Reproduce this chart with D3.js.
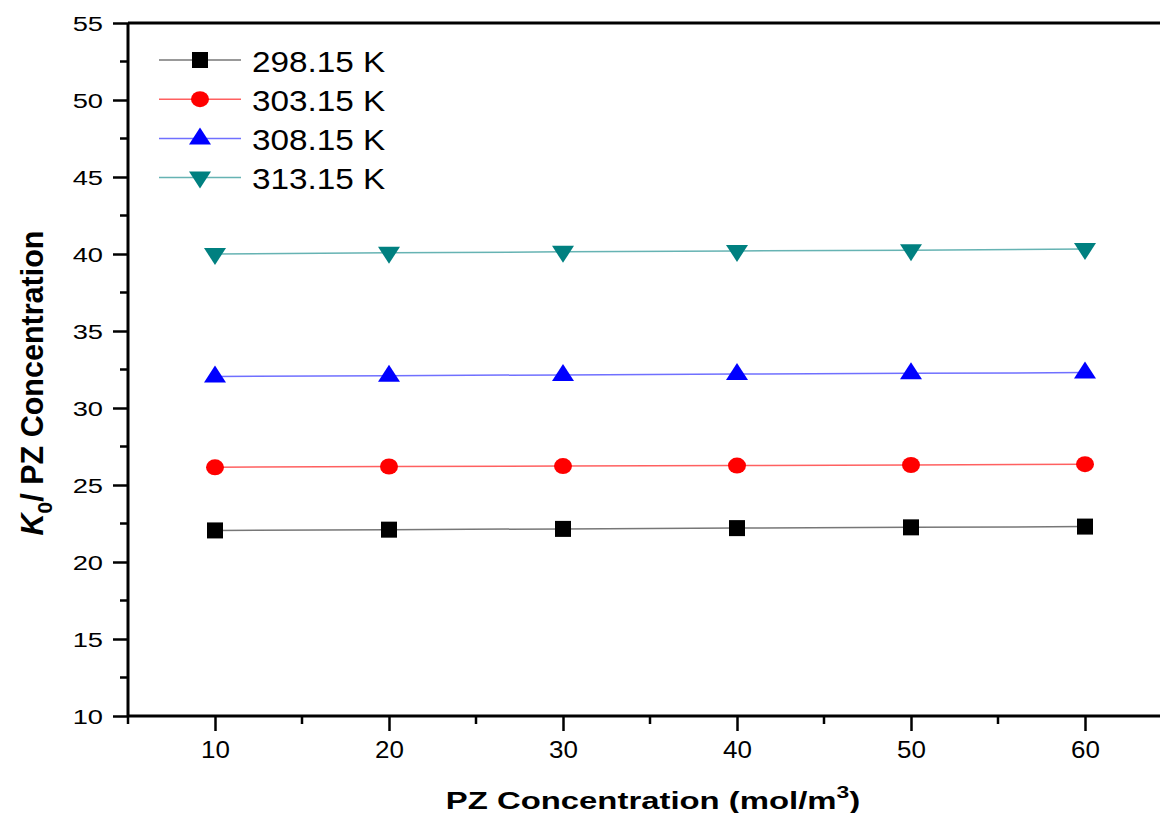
<!DOCTYPE html>
<html>
<head>
<meta charset="utf-8">
<script src="https://cdn.jsdelivr.net/npm/d3@7"></script>
<style>
  body { margin: 0; background: #fff; }
  text { font-family: Arial, "Liberation Sans", sans-serif; }
</style>
</head>
<body>
<script>
// concentration (mol/m3)
var conc = [10, 20, 30, 40, 50, 60];
var seriesNames = ["298.15 K", "303.15 K", "308.15 K", "313.15 K"];
var k298 = [22.05, 22.1, 22.15, 22.2, 22.25, 22.3];
var k303 = [26.15, 26.2, 26.23, 26.26, 26.3, 26.35];
var k308 = [32.05, 32.1, 32.15, 32.2, 32.25, 32.3];
var k313 = [40.0, 40.08, 40.14, 40.2, 40.25, 40.32];
var xTicks = [10, 20, 30, 40, 50, 60];
var yTicks = [10, 15, 20, 25, 30, 35, 40, 45, 50, 55];

var colors = ["#000000", "#ff0000", "#0000ff", "#008080"];
var lineColors = ["#777777", "#ff6060", "#7070ff", "#66b3b3"];
var shapes = ["square", "circle", "up", "down"];
var allSeries = [k298, k303, k308, k313];

var width = 1160, height = 813;
var svg = d3.select("body").append("svg")
  .attr("width", width)
  .attr("height", height);

var x = d3.scaleLinear().domain([5, 65]).range([128, 1172]);
var y = d3.scaleLinear().domain([10, 55]).range([716, 23]);

// frame top line
svg.append("line")
  .attr("x1", x(5)).attr("x2", width)
  .attr("y1", y(55)).attr("y2", y(55))
  .attr("stroke", "#000").attr("stroke-width", 3);

// minor ticks
var xMinor = d3.range(5, 66, 10);
var yMinor = d3.range(12.5, 55, 5);

var xAxis = svg.append("g").attr("transform", "translate(0," + y(10) + ")");
xAxis.call(d3.axisBottom(x).tickValues(xTicks).tickSize(15).tickFormat(d3.format("d")));
xAxis.selectAll("line.minor").data(xMinor).enter().append("line")
  .attr("class", "minor")
  .attr("x1", function(d) { return x(d); }).attr("x2", function(d) { return x(d); })
  .attr("y1", 0).attr("y2", 8);

var yAxis = svg.append("g").attr("transform", "translate(" + x(5) + ",0)");
yAxis.call(d3.axisLeft(y).tickValues(yTicks).tickSize(15).tickFormat(d3.format("d")));
yAxis.selectAll("line.minor").data(yMinor).enter().append("line")
  .attr("class", "minor")
  .attr("y1", function(d) { return y(d); }).attr("y2", function(d) { return y(d); })
  .attr("x1", 0).attr("x2", -8);

svg.selectAll(".domain").attr("stroke", "#000").attr("stroke-width", 3);
svg.selectAll(".tick line, line.minor").attr("stroke", "#000").attr("stroke-width", 2.5);
xAxis.selectAll(".domain").attr("d", "M" + x(5) + ",0H" + width);
yAxis.selectAll(".domain").attr("d", "M0," + y(10) + "V" + y(55));
xAxis.attr("font-size", null);
yAxis.attr("font-size", null);

// tick labels are drawn a bit wider than tall, like the original
xAxis.selectAll(".tick text")
  .style("font-size", "23px").style("fill", "#000")
  .attr("x", 0).attr("y", 0).attr("dy", 0)
  .attr("transform", "translate(0,42) scale(1.13,1)");
yAxis.selectAll(".tick text")
  .style("font-size", "21px").style("fill", "#000")
  .attr("x", 0).attr("dy", "0.35em")
  .attr("transform", "translate(-25,0) scale(1.3,1)");

function drawMarker(g, shape, color, cx, cy) {
  if (shape == "square") {
    g.append("rect").attr("x", cx - 8).attr("y", cy - 8).attr("width", 16).attr("height", 16).attr("fill", color);
  } else if (shape == "circle") {
    g.append("ellipse").attr("cx", cx).attr("cy", cy).attr("rx", 9).attr("ry", 8).attr("fill", color);
  } else if (shape == "up") {
    g.append("path").attr("d", "M" + cx + "," + (cy - 11) + "L" + (cx + 11) + "," + (cy + 6) + "L" + (cx - 11) + "," + (cy + 6) + "Z").attr("fill", color);
  } else {
    g.append("path").attr("d", "M" + cx + "," + (cy + 11) + "L" + (cx + 11) + "," + (cy - 6) + "L" + (cx - 11) + "," + (cy - 6) + "Z").attr("fill", color);
  }
}

var line = d3.line()
  .x(function(d, i) { return x(conc[i]); })
  .y(function(d) { return y(d); });

allSeries.forEach(function(vals, s) {
  var g = svg.append("g");
  g.append("path").datum(vals)
    .attr("d", line)
    .attr("fill", "none")
    .attr("stroke", lineColors[s])
    .attr("stroke-width", 1.5);
  vals.forEach(function(v, i) {
    drawMarker(g, shapes[s], colors[s], x(conc[i]), y(v));
  });
});

// legend
var legend = svg.append("g");
seriesNames.forEach(function(name, s) {
  var ly = 60 + s * 39.2;
  legend.append("line")
    .attr("x1", 159).attr("x2", 241).attr("y1", ly).attr("y2", ly)
    .attr("stroke", lineColors[s]).attr("stroke-width", 1.5);
  drawMarker(legend, shapes[s], colors[s], 200, ly);
  legend.append("text")
    .attr("transform", "translate(252," + (ly + 11.5) + ") scale(1.11,1)")
    .attr("font-size", 30)
    .text(name);
});

// axis titles
var xt = svg.append("text")
  .attr("transform", "translate(653,809) scale(1.43,1)")
  .attr("text-anchor", "middle")
  .attr("font-size", 23).attr("font-weight", "bold");
xt.append("tspan").text("PZ Concentration (mol/m");
xt.append("tspan").attr("dy", -11).attr("font-size", 16).text("3");
xt.append("tspan").attr("dy", 11).text(")");

var yt = svg.append("text")
  .attr("transform", "translate(43,383) rotate(-90)")
  .attr("text-anchor", "middle")
  .attr("font-size", 30.5).attr("font-weight", "bold");
yt.append("tspan").attr("font-style", "italic").text("K");
yt.append("tspan").attr("dy", 9).attr("font-size", 21).text("0");
yt.append("tspan").attr("dy", -9).text("/ PZ Concentration");
</script>
</body>
</html>
